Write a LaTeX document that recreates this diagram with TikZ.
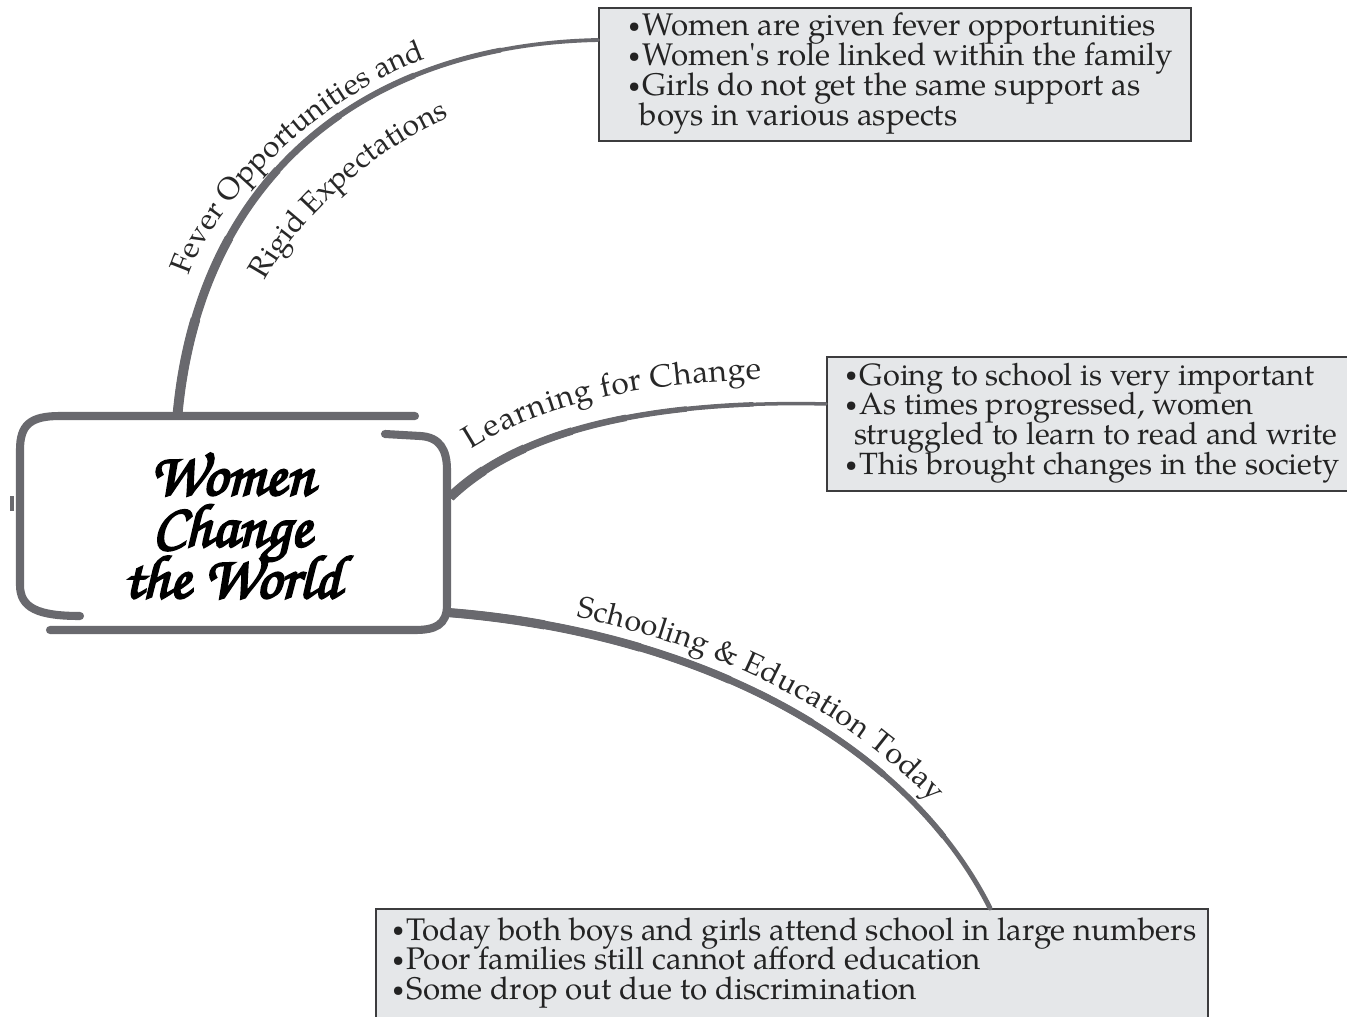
\documentclass[tikz,border=0pt]{standalone}
\usepackage{fontspec}
\setmainfont{texgyrepagella-regular.otf}
\newfontfamily\chorusfont{texgyrechorus-mediumitalic.otf}[FakeBold=3.5]
\usetikzlibrary{calc,decorations.text}
\definecolor{curvegray}{RGB}{105,105,110}
\definecolor{boxfill}{RGB}{229,231,233}
\definecolor{boxborder}{RGB}{60,60,62}
\definecolor{txt}{RGB}{35,35,35}
\definecolor{lbltxt}{RGB}{40,40,40}
\newcommand\myboxfont{\fontsize{17.8}{17}\selectfont\lineskiplimit=-20pt\relax}
\newcommand\myboxfontb{\fontsize{17.5}{17}\selectfont\lineskiplimit=-20pt\relax}
\newcommand\ctrfont{\chorusfont\fontsize{35}{29.3}\selectfont\lineskiplimit=-30pt\relax}
\newcommand\bul{\raisebox{1.8pt}{\fontsize{12}{12}\selectfont\textbullet}\hspace{1.5pt}}
% tapered connector: #1..#4 = P0,P1,P2,P3 (named coordinates), #5 = prefix, #6 thin width (pt), #7 thick width (pt)
\newcommand\tapercurve[7]{%
  \draw[conn, line width=#6pt] (#1) .. controls (#2) and (#3) .. (#4);
  \foreach \k in {1,...,6}{
    \pgfmathsetmacro\s{1-\k/7}
    \pgfmathsetmacro\w{#6+(#7-#6)*\k/6}
    \coordinate (#5a) at ($(#1)!\s!(#2)$);
    \coordinate (#5b) at ($(#2)!\s!(#3)$);
    \coordinate (#5c) at ($(#3)!\s!(#4)$);
    \coordinate (#5d) at ($(#5a)!\s!(#5b)$);
    \coordinate (#5e) at ($(#5b)!\s!(#5c)$);
    \coordinate (#5f) at ($(#5d)!\s!(#5e)$);
    \draw[conn, line cap=butt, line width=\w pt] (#1) .. controls (#5a) and (#5d) .. (#5f);
  }%
}
\begin{document}
\begin{tikzpicture}[x=0.02cm,y=-0.02cm,
  conn/.style={draw=curvegray, line cap=round},
  outline/.style={draw=curvegray, line width=4.6pt, line cap=round},
  infobox/.style={draw=boxborder, line width=1.1pt, fill=boxfill, rectangle, inner sep=0pt, anchor=north west},
  infotext/.style={anchor=west, align=left, inner sep=0pt, text=txt, font=\myboxfont},
  lbl/.style 2 args={decorate, decoration={text along path, text={|\fontsize{#2}{#2}\selectfont|#1}, text color=lbltxt}}
]
\useasboundingbox (0,0) rectangle (1347,1017);
\fill[white] (0,0) rectangle (1347,1017);
\clip (0,0) rectangle (1347,1017);

% central node
\node[minimum width=8.64cm, minimum height=4.28cm, inner sep=0pt] (ctr) at (231,523) {};
\node[align=center, font=\ctrfont, text=black, inner sep=0pt] (ctrtext) at (232,526) {Women\\Change\\the World};

% sketchy outline of central node
\draw[outline] (80,616) .. controls (38,616) and (20,608) .. (20,585) -- (20,450) .. controls (20,425) and (30,416) .. (60,416) -- (415,416);
\draw[outline] (385,434) -- (420,436) .. controls (440,437) and (447,450) .. (447,470) -- (447,605) .. controls (447,625) and (435,630) .. (415,630) -- (50,630);
\draw[outline, line width=2.5pt, line cap=butt] (12,496) -- (12,511);

% info boxes
\node[infobox, minimum width=11.84cm, minimum height=2.66cm] (b1) at (598,7) {};
\node[infobox, minimum width=10.88cm, minimum height=2.68cm] (b2) at (826,356) {};
\node[infobox, minimum width=16.64cm, minimum height=2.44cm] (b3) at (375,908) {};

\node[infotext] (t1) at (628,73.5) {\bul Women are given fever opportunities\\
\bul Women\textquotesingle s role linked within the family\\
\bul Girls do not get the same support as\\
\hspace{6.5pt}boys in various aspects};
\node[infotext, font=\myboxfontb] (t2) at (845,423) {\bul Going to school is very important\\
\bul As times progressed, women\\
\hspace{5pt}struggled to learn to read and write\\
\bul This brought changes in the society};
\node[infotext] (t3) at (392,963) {\bul Today both boys and girls attend school in large numbers\\
\bul Poor families still cannot afford education\\
\bul Some drop out due to discrimination};

% connector end points
\coordinate (c1s) at ($(ctr.north west)+(163,-3)$);
\coordinate (c1p) at (200,180);
\coordinate (c1q) at (360,45);
\coordinate (c1e) at ($(b1.north west)+(0,33)$);
\coordinate (c2s) at ($(ctr.east)+(3,-26)$);
\coordinate (c2p) at (520,430);
\coordinate (c2q) at (650,400);
\coordinate (c2e) at ($(b2.west)+(0,-20)$);
\coordinate (c3s) at ($(ctr.south east)+(-2,-18)$);
\coordinate (c3p) at (680,630);
\coordinate (c3q) at (900,730);
\coordinate (c3e) at ($(b3.north west)+(615,0)$);

% connectors
\tapercurve{c1s}{c1p}{c1q}{c1e}{k1}{2.2}{5.6}
\tapercurve{c2s}{c2p}{c2q}{c2e}{k2}{2.0}{5.4}
\tapercurve{c3s}{c3p}{c3q}{c3e}{k3}{2.8}{5.2}

% labels along the connectors
\path[postaction={lbl={Fever Opportunities and}{17.2}}]
  (189,276) .. controls (209,211) and (323,81) .. (463,48);
\path[postaction={lbl={Rigid Expectations}{17.2}}]
  (265,281) .. controls (297,221) and (382,134) .. (487,104);
\path[postaction={lbl={Learning for Change}{18}, decoration={text align={left indent=0.85cm}, raise=14pt}}]
  (c2s) .. controls (c2p) and (c2q) .. (c2e);
\path[postaction={lbl={Schooling {\&} Education Today}{17.2}, decoration={text align={left indent=2.6cm}, raise=8pt}}]
  (c3s) .. controls (c3p) and (c3q) .. (c3e);
\end{tikzpicture}
\end{document}
